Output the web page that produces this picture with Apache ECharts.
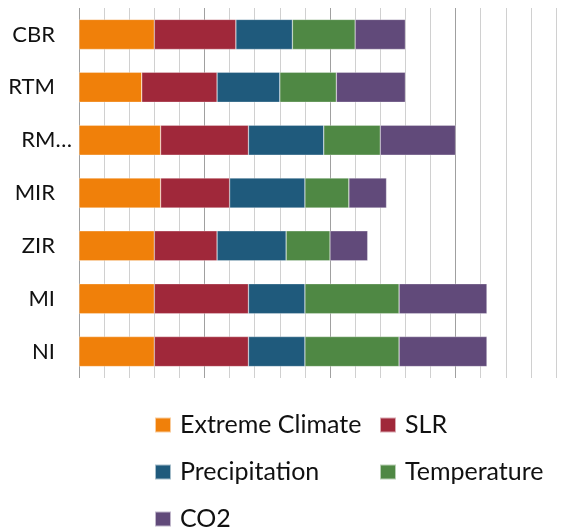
<!DOCTYPE html>
<html>
<head>
<meta charset="utf-8">
<script src="https://cdn.jsdelivr.net/npm/echarts@6/dist/echarts.min.js"></script>
<style>
html,body{margin:0;padding:0;background:#fff;}
#chart{width:572px;height:529px;}
</style>
</head>
<body>
<div id="chart"></div>
<script>
const categories = ['CBR', 'RTM', 'RM…', 'MIR', 'ZIR', 'MI', 'NI'];
const seriesNames = ['Extreme Climate', 'SLR', 'Precipitation', 'Temperature', 'CO2'];
const extremeClimate = [3.0, 2.5, 3.25, 3.25, 3.0, 3.0, 3.0];
const slr            = [3.25, 3.0, 3.5, 2.75, 2.5, 3.75, 3.75];
const precipitation  = [2.25, 2.5, 3.0, 3.0, 2.75, 2.25, 2.25];
const temperature    = [2.5, 2.25, 2.25, 1.75, 1.75, 3.75, 3.75];
const co2            = [2.0, 2.75, 3.0, 1.5, 1.5, 3.5, 3.5];
const axisMin = 0, axisMax = 19, axisStep = 1;

const values = [extremeClimate, slr, precipitation, temperature, co2];
const colors = ['#F0800A', '#A0283A', '#1F5A7C', '#4F8844', '#614A7A'];
const FONT = 'Lato';

const chart = echarts.init(document.getElementById('chart'), null, {renderer: 'canvas'});

const legendPos = [
  {left: 154, top: 412},
  {left: 379, top: 412},
  {left: 154, top: 459},
  {left: 379, top: 459},
  {left: 154, top: 506}
];

const option = {
  backgroundColor: '#fff',
  animation: false,
  grid: {left: 79, top: 8, width: 477, height: 370, containLabel: false},
  xAxis: {
    type: 'value', min: axisMin, max: axisMax, interval: axisStep,
    axisLabel: {show: false}, axisTick: {show: false}, axisLine: {show: false},
    splitLine: {show: true, lineStyle: {color: ['#a0a0a0', '#d0d0d0', '#d0d0d0', '#d0d0d0', '#d0d0d0'], width: 1}}
  },
  yAxis: {
    type: 'category', inverse: true,
    data: categories.map(c => c === 'RM…' ? {value: c, textStyle: {padding: [0, -17, 0, 0]}} : c),
    axisLine: {show: false}, axisTick: {show: false},
    axisLabel: {fontFamily: FONT, fontSize: 22, color: '#111', margin: 24}
  },
  legend: seriesNames.map((n, i) => ({
    data: [n], left: legendPos[i].left, top: legendPos[i].top, padding: 0,
    icon: 'rect', itemWidth: 16, itemHeight: 15, itemGap: 0,
    textStyle: {fontFamily: FONT, fontSize: 25, color: '#111', lineHeight: 26, padding: [0, 0, 0, 4]}
  })),
  series: seriesNames.map((n, i) => ({
    name: n, type: 'bar', stack: 'total', data: values[i], barWidth: 30,
    itemStyle: {color: colors[i], borderColor: 'rgba(255,255,255,0.6)', borderWidth: 0.5}
  }))
};
chart.setOption(option);
</script>
</body>
</html>
